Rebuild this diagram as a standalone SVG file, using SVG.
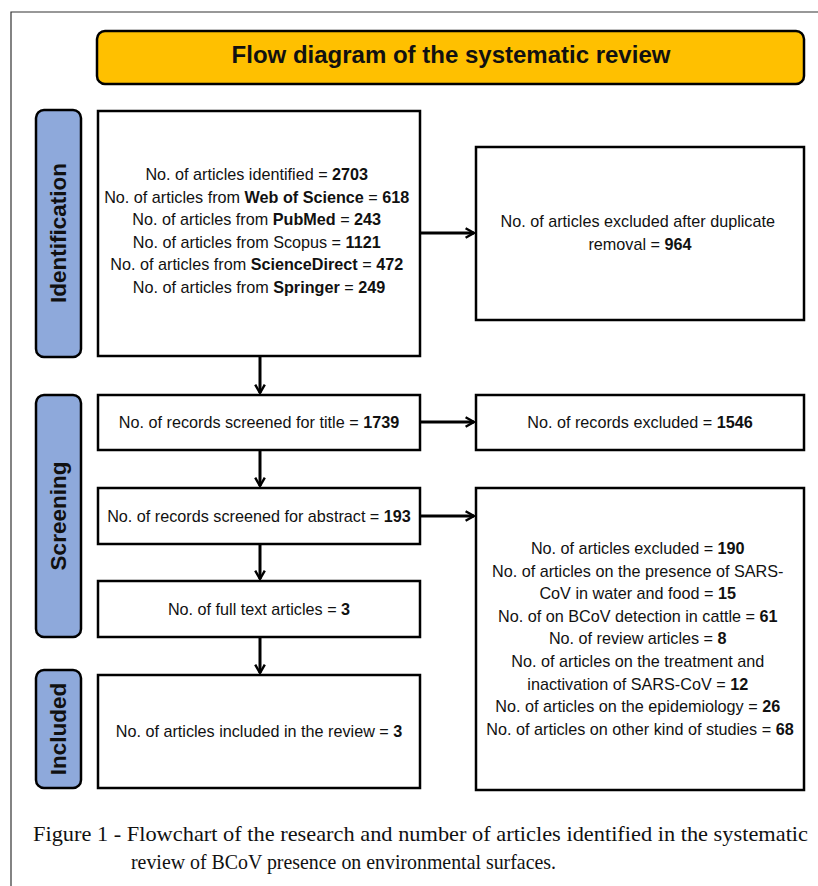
<svg xmlns="http://www.w3.org/2000/svg" width="818" height="886" viewBox="0 0 818 886">
<style>
.box{fill:#fff;stroke:#000;stroke-width:2.5}
.side{fill:#8EA9DB;stroke:#000;stroke-width:2.5}
.t{font-family:"Liberation Sans",Arial,sans-serif;font-size:16.2px;fill:#111;text-anchor:middle}
.sl{font-family:"Liberation Sans",Arial,sans-serif;font-size:22.5px;font-weight:bold;fill:#111;text-anchor:middle}
.cap{font-family:"Liberation Serif","Times New Roman",serif;font-size:21px;fill:#111}
.c{stroke:#000;stroke-width:3;fill:none}
</style>
<defs>
<marker id="ah" viewBox="0 0 10 10" refX="8" refY="5" markerWidth="4" markerHeight="4" orient="auto" markerUnits="strokeWidth">
<path d="M1,1 L8,5 L1,9" fill="none" stroke="#000" stroke-width="2"/>
</marker>
</defs>
<rect width="818" height="886" fill="#fff"/>
<path d="M11,886 V12 H818" fill="none" stroke="#333" stroke-width="1.2"/>

<g id="title">
<rect x="97" y="31" width="707" height="53" rx="8" fill="#FFC000" stroke="#000" stroke-width="2.5"/>
<text x="451" y="63" font-family="Liberation Sans,Arial,sans-serif" font-size="24" font-weight="bold" text-anchor="middle" fill="#111">Flow diagram of the systematic review</text>
</g>

<g id="side-identification">
<rect class="side" x="36" y="110" width="45" height="247" rx="8"/>
<text class="sl" transform="translate(66,233) rotate(-90)">Identification</text>
</g>
<g id="side-screening">
<rect class="side" x="36" y="395" width="45" height="242" rx="8"/>
<text class="sl" transform="translate(66,516) rotate(-90)">Screening</text>
</g>
<g id="side-included">
<rect class="side" x="36" y="670" width="45" height="118" rx="8"/>
<text class="sl" transform="translate(66,729) rotate(-90)">Included</text>
</g>

<g id="connectors">
<line class="c" x1="260" y1="357" x2="260" y2="393" marker-end="url(#ah)"/>
<line class="c" x1="260" y1="451" x2="260" y2="486" marker-end="url(#ah)"/>
<line class="c" x1="260" y1="545" x2="260" y2="579" marker-end="url(#ah)"/>
<line class="c" x1="260" y1="638" x2="260" y2="673" marker-end="url(#ah)"/>
<line class="c" x1="421" y1="233" x2="474" y2="233" marker-end="url(#ah)"/>
<line class="c" x1="421" y1="422" x2="474" y2="422" marker-end="url(#ah)"/>
<line class="c" x1="421" y1="516" x2="474" y2="516" marker-end="url(#ah)"/>
</g>

<g id="identified">
<rect class="box" x="98" y="111" width="322" height="245"/>
<text class="t" y="180"><tspan x="259">No. of articles identified = <tspan font-weight="bold">2703</tspan></tspan>
<tspan x="259" dy="22.6">No. of articles from <tspan font-weight="bold">Web of Science</tspan> = <tspan font-weight="bold">618</tspan></tspan>
<tspan x="259" dy="22.6">No. of articles from <tspan font-weight="bold">PubMed</tspan> = <tspan font-weight="bold">243</tspan></tspan>
<tspan x="259" dy="22.6">No. of articles from Scopus = <tspan font-weight="bold">1121</tspan></tspan>
<tspan x="259" dy="22.6">No. of articles from <tspan font-weight="bold">ScienceDirect</tspan> = <tspan font-weight="bold">472</tspan></tspan>
<tspan x="259" dy="22.6">No. of articles from <tspan font-weight="bold">Springer</tspan> = <tspan font-weight="bold">249</tspan></tspan></text>
</g>

<g id="dup-excluded">
<rect class="box" x="476" y="147" width="328" height="173"/>
<text class="t" y="227"><tspan x="640">No. of articles excluded after duplicate</tspan>
<tspan x="640" dy="22.6">removal = <tspan font-weight="bold">964</tspan></tspan></text>
</g>

<g id="screen-title">
<rect class="box" x="98" y="395" width="322" height="55"/>
<text class="t" x="259" y="428">No. of records screened for title = <tspan font-weight="bold">1739</tspan></text>
</g>

<g id="records-excluded">
<rect class="box" x="476" y="395" width="328" height="55"/>
<text class="t" x="640" y="428">No. of records excluded = <tspan font-weight="bold">1546</tspan></text>
</g>

<g id="screen-abstract">
<rect class="box" x="98" y="488" width="322" height="56"/>
<text class="t" x="259" y="522">No. of records screened for abstract = <tspan font-weight="bold">193</tspan></text>
</g>

<g id="full-text">
<rect class="box" x="98" y="581" width="322" height="56"/>
<text class="t" x="259" y="615">No. of full text articles = <tspan font-weight="bold">3</tspan></text>
</g>

<g id="included">
<rect class="box" x="98" y="675" width="322" height="113"/>
<text class="t" x="259" y="737">No. of articles included in the review = <tspan font-weight="bold">3</tspan></text>
</g>

<g id="articles-excluded">
<rect class="box" x="476" y="488" width="328" height="302"/>
<text class="t" y="554"><tspan x="640">No. of articles excluded = <tspan font-weight="bold">190</tspan></tspan>
<tspan x="640" dy="22.6">No. of articles on the presence of SARS-</tspan>
<tspan x="640" dy="22.6">CoV in water and food = <tspan font-weight="bold">15</tspan></tspan>
<tspan x="640" dy="22.6">No. of on BCoV detection in cattle = <tspan font-weight="bold">61</tspan></tspan>
<tspan x="640" dy="22.6">No. of review articles = <tspan font-weight="bold">8</tspan></tspan>
<tspan x="640" dy="22.6">No. of articles on the treatment and</tspan>
<tspan x="640" dy="22.6">inactivation of SARS-CoV = <tspan font-weight="bold">12</tspan></tspan>
<tspan x="640" dy="22.6">No. of articles on the epidemiology = <tspan font-weight="bold">26</tspan></tspan>
<tspan x="640" dy="22.6">No. of articles on other kind of studies = <tspan font-weight="bold">68</tspan></tspan></text>
</g>

<g id="caption">
<text class="cap" x="33" y="841" textLength="775" lengthAdjust="spacingAndGlyphs">Figure 1 - Flowchart of the research and number of articles identified in the systematic</text>
<text class="cap" x="131" y="869" textLength="425" lengthAdjust="spacingAndGlyphs">review of BCoV presence on environmental surfaces.</text>
</g>
</svg>
